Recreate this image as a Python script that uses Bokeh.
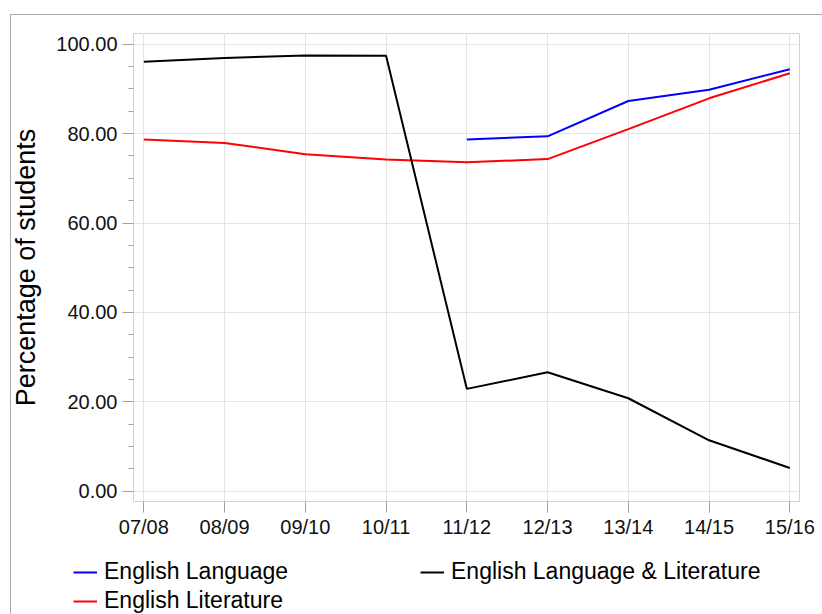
from bokeh.plotting import figure
from bokeh.layouts import column
from bokeh.models import Range1d, FixedTicker, Legend, LegendItem, NumeralTickFormatter
from bokeh.embed import file_html
from bokeh.resources import INLINE

years = ["07/08", "08/09", "09/10", "10/11", "11/12", "12/13", "13/14", "14/15", "15/16"]
lang_years = ["11/12", "12/13", "13/14", "14/15", "15/16"]
english_language = [78.7, 79.4, 87.3, 89.8, 94.4]
english_lang_lit = [96.1, 96.9, 97.5, 97.4, 22.9, 26.6, 20.8, 11.4, 5.2]
english_literature = [78.7, 77.9, 75.4, 74.2, 73.6, 74.3, 81.0, 87.9, 93.5]
y_ticks = [0, 20, 40, 60, 80, 100]
y_minor = [5, 10, 15, 25, 30, 35, 45, 50, 55, 65, 70, 75, 85, 90, 95]
series_names = ["English Language", "English Literature", "English Language & Literature"]
series_colors = ["#0000ff", "#ff0000", "#000000"]

xi = list(range(len(years)))
xl = [years.index(y) for y in lang_years]
series_x = [xl, xi, xi]
series_y = [english_language, english_literature, english_lang_lit]

FONT = "Liberation Sans"

p = figure(width=822, height=540, output_backend="svg", toolbar_location=None,
           x_range=Range1d(-0.128, 8.12), y_range=Range1d(-2.3, 102.4))
p.frame_align = False
p.min_border = 0
p.min_border_left = 133
p.min_border_top = 33
p.min_border_right = 23
p.min_border_bottom = 38
# thin outer frame line (top/left) painted behind the transparent canvas border
p.styles = {"background-color": "white",
            "box-shadow": "inset 10px 14px 0 0 white, inset 11px 15px 0 0 #aaaaaa"}
p.background_fill_color = "white"
p.border_fill_alpha = 0
p.outline_line_color = "#d2d2d2"
p.outline_line_width = 1

for sx, sy, col in zip(series_x, series_y, series_colors):
    p.line(sx, sy, line_color=col, line_width=2)

# x axis
p.xaxis.ticker = FixedTicker(ticks=xi)
p.xaxis.major_label_overrides = {i: y for i, y in enumerate(years)}
p.xaxis.axis_line_color = None
p.xaxis.major_tick_out = 11
p.xaxis.major_tick_in = 0
p.xaxis.major_tick_line_color = "#a0a0a0"
p.xaxis.minor_tick_line_color = None
p.xaxis.major_label_standoff = 3
p.xaxis.major_label_text_font = FONT
p.xaxis.major_label_text_font_size = "20px"
p.xaxis.major_label_text_color = "#111111"

# y axis
p.yaxis.ticker = FixedTicker(ticks=y_ticks, minor_ticks=y_minor)
p.yaxis.formatter = NumeralTickFormatter(format="0.00")
p.yaxis.axis_line_color = None
p.yaxis.major_tick_out = 11
p.yaxis.major_tick_in = 0
p.yaxis.minor_tick_out = 5
p.yaxis.minor_tick_in = 0
p.yaxis.major_tick_line_color = "#a0a0a0"
p.yaxis.minor_tick_line_color = "#a0a0a0"
p.yaxis.major_label_standoff = 5
p.yaxis.major_label_text_font = FONT
p.yaxis.major_label_text_font_size = "20px"
p.yaxis.major_label_text_color = "#111111"
p.yaxis.axis_label = "Percentage of students"
p.yaxis.axis_label_text_font = FONT
p.yaxis.axis_label_text_font_size = "27px"
p.yaxis.axis_label_text_font_style = "normal"
p.yaxis.axis_label_text_color = "#000000"
p.yaxis.axis_label_standoff = 12

p.xgrid.grid_line_color = "#e4e4e4"
p.ygrid.grid_line_color = "#e4e4e4"
p.xgrid.ticker = FixedTicker(ticks=xi)
p.ygrid.ticker = FixedTicker(ticks=y_ticks)

# legend strip below the chart (its own frame covers the whole strip)
lf = figure(width=822, height=74, output_backend="svg", toolbar_location=None,
            x_axis_type=None, y_axis_type=None,
            x_range=Range1d(-1, 0), y_range=Range1d(-1, 0))
lf.frame_align = False
lf.min_border = 0
lf.grid.visible = False
lf.outline_line_color = None
lf.background_fill_alpha = 0
lf.border_fill_alpha = 0
lf.styles = {"background-color": "white",
             "box-shadow": "inset 10px 0 0 0 white, inset 11px 0 0 0 #aaaaaa"}

items = []
for name, sx, sy, col in zip(series_names, series_x, series_y, series_colors):
    # same series, outside this strip's view: only used as legend keys
    r = lf.line(sx, sy, line_color=col, line_width=2)
    items.append(LegendItem(label=name, renderers=[r]))

legend = Legend(items=items, location=(73, 0), orientation="vertical", ncols=2)
legend.padding = 0
legend.margin = 0
legend.spacing = 2
legend.glyph_width = 24
legend.glyph_height = 24
legend.label_height = 24
legend.label_standoff = 7
legend.label_width = 314
legend.label_text_font = FONT
legend.label_text_font_size = "23px"
legend.label_text_color = "#000000"
legend.border_line_color = None
legend.background_fill_alpha = 0
lf.add_layout(legend, "center")

layout = column(p, lf, spacing=0)
open("out.html", "w").write(file_html(layout, INLINE))
